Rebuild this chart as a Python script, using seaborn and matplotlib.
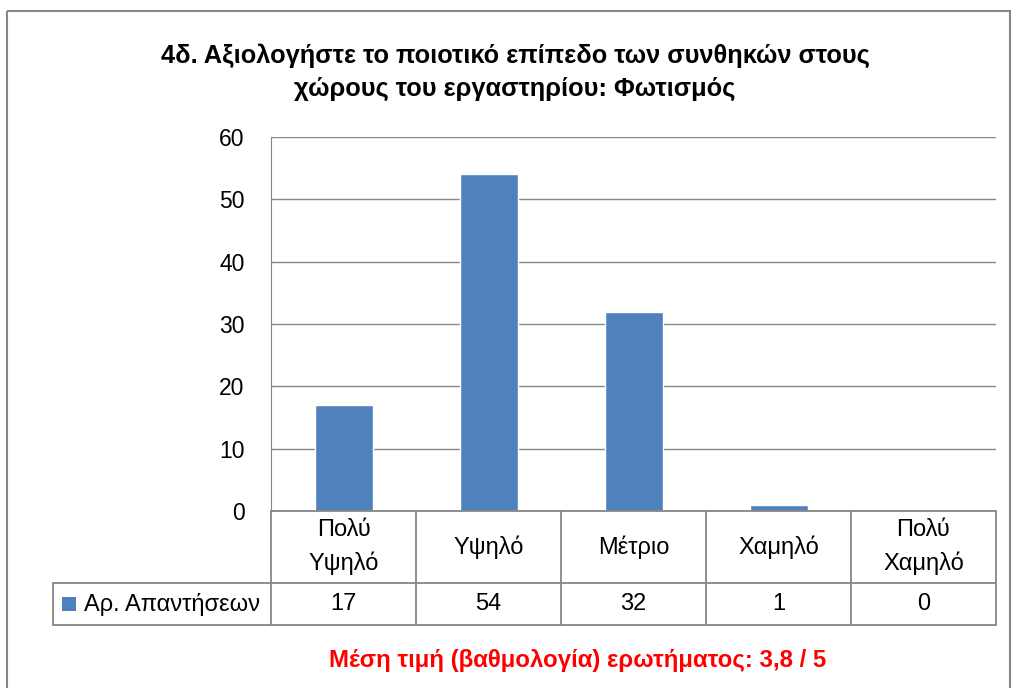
import numpy as np
import pandas as pd
import matplotlib
matplotlib.use("Agg")
import matplotlib.pyplot as plt
import matplotlib.transforms as mtransforms
from matplotlib.patches import Rectangle
import seaborn as sns

# data
categories = ["Πολύ\nΥψηλό", "Υψηλό", "Μέτριο", "Χαμηλό", "Πολύ\nΧαμηλό"]
answers = [17, 54, 32, 1, 0]
series_name = "Αρ. Απαντήσεων"
title = "4δ. Αξιολογήστε το ποιοτικό επίπεδο των συνθηκών στους\nχώρους του εργαστηρίου: Φωτισμός"
footer = "Μέση τιμή (βαθμολογία) ερωτήματος: 3,8 / 5"
yticks = [0, 10, 20, 30, 40, 50, 60]

sns.set_style("white")
plt.rcParams['font.family'] = ['Liberation Sans', 'DejaVu Sans']
plt.rcParams['text.color'] = 'black'
plt.rcParams['ytick.color'] = 'black'

df = pd.DataFrame({"cat": categories, "n": answers})

W, H = 1013, 688
fig = plt.figure(figsize=(W / 100, H / 100), dpi=100)
grey = "#868686"
blue = "#4F81BD"
fs = 17

# outer chart border
fig.patches.append(Rectangle((7 / W, 1 - 11 / H), (1010 - 7) / W, -(H + 20) / H,
                             transform=fig.transFigure, fill=False,
                             edgecolor=grey, lw=1.5))

ax = fig.add_axes([271 / W, (H - 511) / H, 725 / W, 374 / H])
sns.barplot(data=df, x="cat", y="n", color=blue, width=0.4, saturation=1, ax=ax)
ax.set_ylim(0, 60)
ax.set_xlim(-0.5, 4.5)
ax.set_yticks(yticks)
ax.yaxis.grid(True, color=grey, lw=1)
ax.set_axisbelow(True)
ax.set_xlabel("")
ax.set_ylabel("")
ax.set_xticks([])
for s in ["top", "right", "bottom"]:
    ax.spines[s].set_visible(False)
ax.spines["left"].set_color(grey)
ax.tick_params(axis="y", length=0, pad=19, labelsize=16.5)

# data table under the plot
tr = mtransforms.blended_transform_factory(ax.transData, ax.transAxes)
y0, y1, y2 = 0, -72 / 374, -114 / 374
leg_left = -0.5 - (271 - 53) / 145
kw = dict(color=grey, lw=1.3, clip_on=False, transform=tr)
ax.plot([-0.5, 4.5], [y0, y0], **kw)
ax.plot([leg_left, 4.5], [y1, y1], **kw)
ax.plot([leg_left, 4.5], [y2, y2], **kw)
ax.plot([leg_left, leg_left], [y1, y2], **kw)
for i in range(len(categories) + 1):
    ax.plot([i - 0.5, i - 0.5], [y0, y2], **kw)
for i, (c, v) in enumerate(zip(categories, answers)):
    ax.text(i, (y0 + y1) / 2, c, ha="center", va="center", fontsize=fs,
            transform=tr, linespacing=1.6)
    ax.text(i, (y1 + y2) / 2, str(v), ha="center", va="center", fontsize=fs,
            transform=tr)
ax.add_patch(Rectangle((leg_left + 9 / 145, (y1 + y2) / 2 - 7 / 374), 14 / 145, 14 / 374,
                       facecolor=blue, edgecolor="none", transform=tr, clip_on=False))
ax.text(leg_left + 31 / 145, (y1 + y2) / 2, series_name, ha="left", va="center",
        fontsize=fs, transform=tr)

fig.text(515 / W, 1 - 72 / H, title, ha="center", va="center", fontsize=18.3,
         fontweight="bold", linespacing=1.45)
fig.text(578 / W, 1 - 660 / H, footer, ha="center", va="center", fontsize=17.3,
         fontweight="bold", color="#FF0000")

fig.savefig("out.png", dpi=100)
